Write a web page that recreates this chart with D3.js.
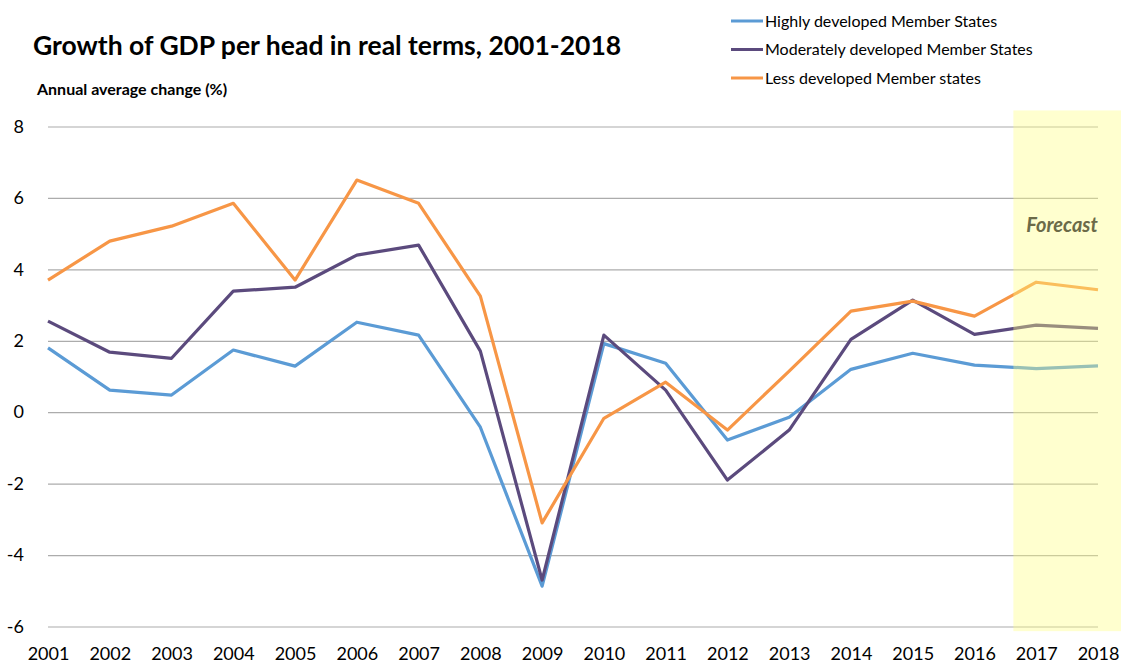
<!DOCTYPE html>
<html>
<head>
<meta charset="utf-8">
<script src="https://cdn.jsdelivr.net/npm/d3@7"></script>
<style>
  body { margin: 0; background: #fff; }
  svg { display: block; font-family: Lato, "Open Sans", sans-serif; }
</style>
</head>
<body>
<div id="container"></div>
<script>
// data
const years = [2001, 2002, 2003, 2004, 2005, 2006, 2007, 2008, 2009, 2010, 2011, 2012, 2013, 2014, 2015, 2016, 2017, 2018]
const highly = [1.8, 0.62, 0.48, 1.74, 1.29, 2.52, 2.16, -0.42, -4.87, 1.92, 1.37, -0.78, -0.14, 1.2, 1.65, 1.32, 1.22, 1.3]
const moderately = [2.55, 1.68, 1.51, 3.39, 3.5, 4.4, 4.68, 1.71, -4.7, 2.16, 0.62, -1.9, -0.5, 2.04, 3.14, 2.18, 2.44, 2.35]
const less = [3.7, 4.79, 5.21, 5.85, 3.7, 6.5, 5.85, 3.25, -3.1, -0.17, 0.84, -0.5, 1.15, 2.83, 3.11, 2.69, 3.64, 3.43]
const seriesNames = ['Highly developed Member States', 'Moderately developed Member States', 'Less developed Member states']
const yTicks = [-6, -4, -2, 0, 2, 4, 6, 8]
const forecastFrom = 2016.63

const colors = ['#5b9bd5', '#5b4a7d', '#f79646']
const series = [highly, moderately, less]

const W = 1121, H = 664

const svg = d3.select('#container')
  .append('svg')
  .attr('width', W)
  .attr('height', H)

// scales
const x = d3.scaleLinear().domain([2001, 2018]).range([48, 1098])
const y = d3.scaleLinear().domain([-6, 8]).range([626.5, 126.5])

// title + subtitle
svg.append('text')
  .attr('x', 33).attr('y', 55)
  .attr('font-size', 26.5).attr('font-weight', 700)
  .attr('fill', '#000')
  .text('Growth of GDP per head in real terms, 2001-2018')

svg.append('text')
  .attr('x', 37).attr('y', 95)
  .attr('font-size', 16).attr('font-weight', 700)
  .attr('fill', '#000')
  .text('Annual average change (%)')

// gridlines
const yAxis = d3.axisLeft(y)
  .tickValues(yTicks)
  .tickSize(-(x.range()[1] - x.range()[0]))
  .tickPadding(24)
  .tickFormat(d => d)

const gy = svg.append('g')
  .attr('transform', `translate(${x.range()[0]},0)`)
  .call(yAxis)
gy.select('.domain').remove()
gy.selectAll('.tick line').attr('stroke', '#acacac').attr('stroke-width', 1.2)
gy.selectAll('.tick text')
  .attr('font-size', 18).attr('fill', '#000')
  .attr('font-family', 'Lato, sans-serif')

// x axis labels
const xAxis = d3.axisBottom(x)
  .tickValues(years)
  .tickSize(0)
  .tickPadding(21)
  .tickFormat(d => d)

const gx = svg.append('g')
  .attr('transform', `translate(0,${y(-6)})`)
  .call(xAxis)
gx.select('.domain').remove()
gx.selectAll('.tick text')
  .attr('font-size', 18).attr('fill', '#000')
  .attr('font-family', 'Lato, sans-serif')

// lines
const line = d3.line()
  .x((d, i) => x(years[i]))
  .y(d => y(d))

series.forEach((s, i) => {
  svg.append('path')
    .datum(s)
    .attr('d', line)
    .attr('fill', 'none')
    .attr('stroke', colors[i])
    .attr('stroke-width', 3.2)
    .attr('stroke-linejoin', 'round')
})

// forecast band, drawn over the lines
svg.append('rect')
  .attr('x', x(forecastFrom))
  .attr('y', y(8.45))
  .attr('width', W - x(forecastFrom))
  .attr('height', y(-6.13) - y(8.45))
  .attr('fill', '#ffff80')
  .attr('opacity', 0.38)

svg.append('text')
  .attr('x', 1062).attr('y', y(5.05))
  .attr('text-anchor', 'middle')
  .attr('font-size', 20).attr('font-weight', 700).attr('font-style', 'italic')
  .attr('fill', '#6b6a48')
  .text('Forecast')

// legend
const legend = svg.append('g')
const items = legend.selectAll('g')
  .data(seriesNames)
  .enter()
  .append('g')
  .attr('transform', (d, i) => `translate(731, ${21 + i * 28.5})`)

items.append('line')
  .attr('x1', 0).attr('x2', 32)
  .attr('stroke', (d, i) => colors[i])
  .attr('stroke-width', 3)

items.append('text')
  .attr('x', 34).attr('dy', '0.35em')
  .attr('font-size', 16).attr('fill', '#000')
  .text(d => d)
</script>
</body>
</html>
